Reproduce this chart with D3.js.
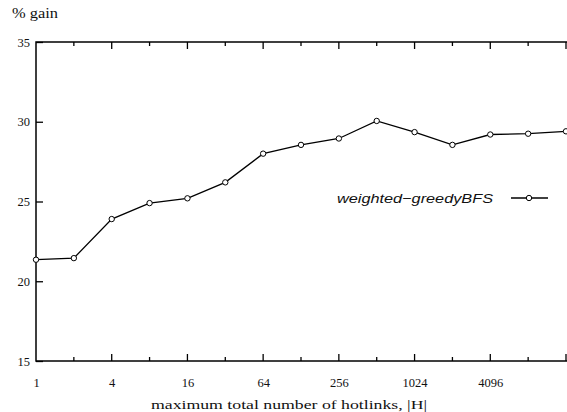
<!DOCTYPE html>
<html lang="en">
  <head>
    <meta charset="utf-8">
    <title>% gain</title>
    <script src="https://d3js.org/d3.v7.min.js"></script>
    <style>
      body { margin: 0; background: #fff; }
      text { fill: #111; }
    </style>
  </head>
  <body>
    <div id="my_dataviz"></div>
    <script>
      // data: x = 2^0 .. 2^14, y = % gain
      const hotlinks = [1, 2, 4, 8, 16, 32, 64, 128, 256, 512, 1024, 2048, 4096, 8192, 16384];
      const gain = [21.35, 21.45, 23.9, 24.9, 25.2, 26.2, 28.0, 28.55, 28.95, 30.05, 29.35, 28.55, 29.2, 29.25, 29.4];
      const xTickLabels = [1, 4, 16, 64, 256, 1024, 4096];
      const yTicks = [15, 20, 25, 30, 35];
      const seriesName = "weighted\u2212greedyBFS";

      const width = 567, height = 412;
      const margin = {left: 36, right: 566, top: 42, bottom: 361};

      const svg = d3.select("#my_dataviz")
        .append("svg")
          .attr("width", width)
          .attr("height", height);

      const x = d3.scaleLog().base(2).domain([1, 16384]).range([margin.left, margin.right]);
      const y = d3.scaleLinear().domain([15, 35]).range([margin.bottom, margin.top]);

      const fontSerif = "'Liberation Serif', 'DejaVu Serif', serif";

      // frame
      svg.append("rect")
        .attr("x", margin.left).attr("y", margin.top)
        .attr("width", margin.right - margin.left + 4).attr("height", margin.bottom - margin.top)
        .attr("fill", "none").attr("stroke", "#000").attr("stroke-width", 1.5);

      // x ticks (inward, bottom and top) - every octave, longer where labelled
      hotlinks.forEach(v => {
        if (v === 1) return;
        const len = xTickLabels.includes(v) || v === 16384 ? 7 : 4;
        svg.append("line")
          .attr("x1", x(v)).attr("x2", x(v))
          .attr("y1", margin.bottom).attr("y2", margin.bottom - len)
          .attr("stroke", "#000").attr("stroke-width", 1.3);
        svg.append("line")
          .attr("x1", x(v)).attr("x2", x(v))
          .attr("y1", margin.top).attr("y2", margin.top + len)
          .attr("stroke", "#000").attr("stroke-width", 1.3);
      });

      // x tick labels
      svg.append("g")
        .attr("transform", `translate(0,${margin.bottom})`)
        .call(d3.axisBottom(x).tickValues(xTickLabels).tickSize(0).tickPadding(17).tickFormat(d3.format("d")))
        .call(g => g.select(".domain").remove())
        .call(g => g.selectAll("text")
          .attr("font-family", fontSerif)
          .attr("font-size", 12.5)
          .attr("fill", "#111"));

      // y axis: inward ticks + labels
      svg.append("g")
        .attr("transform", `translate(${margin.left},0)`)
        .call(d3.axisLeft(y).tickValues(yTicks).tickSize(-7).tickPadding(6))
        .call(g => g.select(".domain").remove())
        .call(g => g.selectAll(".tick line").attr("stroke", "#000").attr("stroke-width", 1.3))
        .call(g => g.selectAll("text")
          .attr("font-family", fontSerif)
          .attr("font-size", 12.5)
          .attr("fill", "#111"));

      // line
      const line = d3.line()
        .x((d, i) => x(hotlinks[i]))
        .y(d => y(d));

      svg.append("path")
        .datum(gain)
        .attr("fill", "none")
        .attr("stroke", "#000")
        .attr("stroke-width", 1.3)
        .attr("d", line);

      svg.selectAll(".pt")
        .data(gain)
        .join("circle")
          .attr("class", "pt")
          .attr("cx", (d, i) => x(hotlinks[i]))
          .attr("cy", d => y(d))
          .attr("r", 2.7)
          .attr("fill", "#fff")
          .attr("stroke", "#000")
          .attr("stroke-width", 1);

      // legend
      svg.append("text")
        .attr("x", 493).attr("y", 203)
        .attr("text-anchor", "end")
        .attr("font-family", "'Liberation Sans', Arial, sans-serif")
        .attr("font-style", "italic")
        .attr("font-size", 13)
        .attr("textLength", 156)
        .attr("lengthAdjust", "spacingAndGlyphs")
        .text(seriesName);
      svg.append("line")
        .attr("x1", 511).attr("x2", 548)
        .attr("y1", 198).attr("y2", 198)
        .attr("stroke", "#000").attr("stroke-width", 1.3);
      svg.append("circle")
        .attr("cx", 529).attr("cy", 198).attr("r", 2.7)
        .attr("fill", "#fff").attr("stroke", "#000").attr("stroke-width", 1);

      // axis titles
      svg.append("text")
        .attr("x", 12).attr("y", 18)
        .attr("font-family", fontSerif)
        .attr("font-size", 14)
        .attr("textLength", 46)
        .attr("lengthAdjust", "spacingAndGlyphs")
        .text("% gain");

      svg.append("text")
        .attr("x", 151).attr("y", 409)
        .attr("font-family", fontSerif)
        .attr("font-size", 13.5)
        .attr("textLength", 276)
        .attr("lengthAdjust", "spacingAndGlyphs")
        .text("maximum total number of hotlinks, |H|");
    </script>
  </body>
</html>
